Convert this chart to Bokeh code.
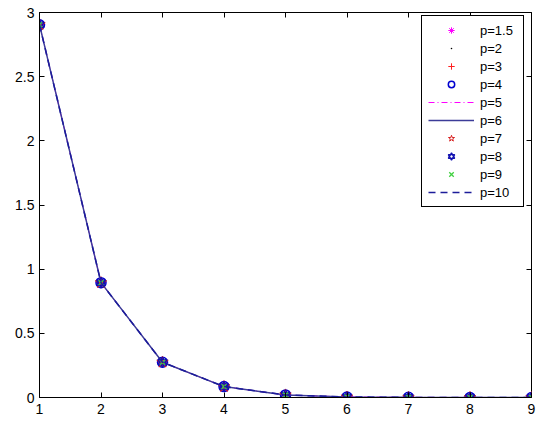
from bokeh.plotting import figure
from bokeh.models import (Range1d, FixedTicker, LinearAxis, Legend, LegendItem,
                          NumeralTickFormatter, CustomJSTickFormatter)
from bokeh.embed import file_html
from bokeh.resources import INLINE

# data
x_vals = [1, 2, 3, 4, 5, 6, 7, 8, 9]
y_vals = [2.905, 0.895, 0.275, 0.085, 0.02, 0.004, 0.001, 0.0002, 0.0]
series_labels = ["p=1.5", "p=2", "p=3", "p=4", "p=5", "p=6", "p=7", "p=8", "p=9", "p=10"]
x_ticks = [1, 2, 3, 4, 5, 6, 7, 8, 9]
y_ticks = [0, 0.5, 1, 1.5, 2, 2.5, 3]

FONT = "Liberation Sans"

p = figure(width=550, height=429, x_range=Range1d(1, 9), y_range=Range1d(0, 3),
           output_backend="svg", toolbar_location=None,
           min_border_left=39, min_border_right=19, min_border_top=12, min_border_bottom=32)
p.xgrid.visible = False
p.ygrid.visible = False
p.outline_line_color = "black"
p.outline_line_alpha = 1
p.outline_line_width = 1
p.background_fill_color = "white"
p.border_fill_color = "white"

def style_axis(ax, labels=True, standoff=5):
    ax.major_tick_in = 5
    ax.major_tick_out = 0
    ax.minor_tick_line_color = None
    ax.axis_line_color = "black"
    ax.major_tick_line_color = "black"
    ax.major_label_text_font = FONT
    ax.major_label_text_color = "black"
    ax.major_label_standoff = standoff
    ax.major_label_text_font_size = "14px"
    if not labels:
        ax.formatter = CustomJSTickFormatter(code="return '';")
        ax.major_label_standoff = 0
        ax.axis_line_color = None

p.xaxis.ticker = FixedTicker(ticks=x_ticks)
p.yaxis.ticker = FixedTicker(ticks=y_ticks)
p.yaxis.formatter = NumeralTickFormatter(format="0.[0]")
style_axis(p.xaxis[0], standoff=6)
style_axis(p.yaxis[0], standoff=5)

top = LinearAxis(ticker=FixedTicker(ticks=x_ticks))
style_axis(top, labels=False)
p.add_layout(top, "above")
right = LinearAxis(ticker=FixedTicker(ticks=y_ticks))
style_axis(right, labels=False)
p.add_layout(right, "right")

r1 = p.scatter(x_vals, y_vals, marker="asterisk", size=10, line_color="#ff00ff", line_width=1)
r2 = p.scatter(x_vals, y_vals, marker="dot", size=14, fill_color="black", line_color="black")
r3 = p.scatter(x_vals, y_vals, marker="cross", size=10, line_color="#ff2020", line_width=1)
r4 = p.scatter(x_vals, y_vals, marker="circle", size=10, line_color="#0000d0", fill_color=None, line_width=1.5)
r5 = p.line(x_vals, y_vals, line_color="#ff00ff", line_dash="6 3 1 3", line_width=1)
r6 = p.line(x_vals, y_vals, line_color="#3c3c98", line_width=1.5)
r7 = p.scatter(x_vals, y_vals, marker="star", size=12, line_color="#d82020", fill_color=None, line_width=1)
r8a = p.scatter(x_vals, y_vals, marker="triangle", size=9, line_color="#1010b0", fill_color=None, line_width=1.3)
r8b = p.scatter(x_vals, y_vals, marker="inverted_triangle", size=9, line_color="#1010b0", fill_color=None, line_width=1.3)
r9 = p.scatter(x_vals, y_vals, marker="x", size=7, line_color="#40d040", line_width=1.3)
r10 = p.line(x_vals, y_vals, line_color="#1c1c9a", line_dash="7 5", line_width=1.5)

renderer_groups = [[r1], [r2], [r3], [r4], [r5], [r6], [r7], [r8a, r8b], [r9], [r10]]
items = [LegendItem(label=lab, renderers=rs) for lab, rs in zip(series_labels, renderer_groups)]
legend = Legend(items=items, location=(382, 190))
legend.border_line_color = "black"
legend.border_line_alpha = 1
legend.border_line_width = 1
legend.background_fill_color = "white"
legend.background_fill_alpha = 1
legend.padding = 6
legend.spacing = 2
legend.margin = 0
legend.glyph_width = 46
legend.glyph_height = 16
legend.label_height = 16
legend.label_width = 37
legend.label_standoff = 6
legend.label_text_font = FONT
legend.label_text_font_size = "13px"
legend.label_text_color = "black"
p.add_layout(legend)

open("out.html", "w").write(file_html(p, INLINE))
